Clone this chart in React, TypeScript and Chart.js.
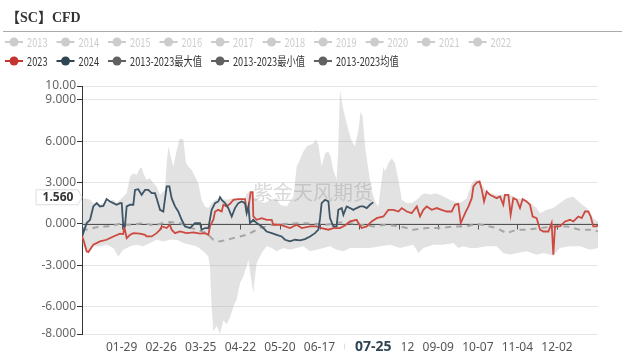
import React, { useEffect, useRef } from "react";
import { Chart, registerables } from "chart.js";

Chart.register(...registerables);

// ---------- text ----------
const TITLE = "【SC】CFD";
const WATERMARK = "紫金天风期货";
const HIDDEN_YEARS = ["2013", "2014", "2015", "2016", "2017", "2018", "2019", "2020", "2021", "2022"];
const NAME_2023 = "2023";
const NAME_2024 = "2024";
const NAME_MAX = "2013-2023最大值";
const NAME_MIN = "2013-2023最小值";
const NAME_MEAN = "2013-2023均值";

// ---------- axes ----------
// x = day of (leap) year index, 0 = 01-01
const X_MIN = 0;
const X_MAX = 365;
const X_TICK_DAYS = [28, 56, 84, 112, 140, 168, 196, 224, 252, 280, 308, 336];
const X_TICK_LABELS = ["01-29", "02-26", "03-25", "04-22", "05-20", "06-17", "07-15", "08-12", "09-09", "10-07", "11-04", "12-02"];
const Y_MIN = -8;
const Y_MAX = 10;
const Y_TICKS = [-8, -6, -3, 0, 3, 6, 9, 10];
const Y_TICK_LABELS = ["-8.000", "-6.000", "-3.000", "0.000", "3.000", "6.000", "9.000", "10.00"];

// axis pointer (hover state in the reference)
const POINTER_DAY = 206;
const POINTER_DAY_LABEL = "07-25";
const POINTER_VALUE = 1.56;
const POINTER_VALUE_LABEL = "1.560";

// ---------- series: [day, value] ----------
const S2023: [number, number][] = [
  [0, -0.92], [1, -1.16], [3.3, -2.0], [4.5, -2.05], [8, -1.52], [12.7, -1.28], [17.4, -1.16], [22.2, -0.92],
  [26.9, -0.72], [29.2, -0.75], [29.9, -0.19], [31.6, -1.04], [34, -0.8], [36.3, -0.68], [41, -0.72], [44.6, -0.8],
  [45.7, -0.92], [49.3, -0.92], [52.8, -0.68], [55.2, -0.43], [56.4, -0.19], [59.9, -0.31], [62.2, -0.07], [63.4, -0.43],
  [65.8, -0.68], [69.3, -0.56], [74, -0.68], [78.8, -0.63], [83.5, -0.72], [87, -0.68], [89.4, -0.8], [90.5, -0.19],
  [92.9, 0.29], [94.1, 0.89], [96.4, 1.01], [98.8, 0.89], [100, 1.38], [102.3, 1.26], [104.7, 1.45], [107.1, 1.74],
  [110.6, 1.79], [115.3, 1.79], [116.5, 0.89], [117.7, 1.14], [119.3, 2.29], [120.7, 2.29], [121.2, 0.53], [123.6, 0.29],
  [127.1, 0.41], [130.6, 0.29], [134.2, 0.29], [135.3, -0.07], [140.1, -0.07], [143.6, -0.19], [147.1, -0.31], [151.9, -0.07],
  [155.4, -0.31], [161.3, -0.19], [166, -0.19], [169.5, -0.31], [174.3, -0.43], [177.8, -0.31], [182.5, -0.31], [186, -0.12],
  [189.6, 0.17], [194.3, 0.29], [195.5, 0.05], [197.8, -0.31], [201.4, -0.19], [204.9, 0.17], [208.5, 0.41], [213.2, 0.53],
  [216.7, 1.01], [220.3, 1.01], [223.8, 0.89], [226.2, 1.14], [229.7, 0.89], [233.2, 0.77], [236.8, 1.26], [239.1, 0.53],
  [241.5, 1.01], [243.8, 1.26], [247.4, 1.01], [250.9, 1.14], [254.4, 1.01], [258, 0.89], [261.5, 0.89], [263.8, 1.38],
  [266.2, 1.45], [267.9, 0.05], [271, 0.77], [273.4, 1.26], [275.7, 1.86], [276.9, 2.71], [279.3, 3.0], [281.2, 3.07],
  [282.8, 2.46], [284.4, 1.62], [286.3, 2.34], [288.6, 2.1], [291, 1.98], [293.3, 1.86], [295.7, 1.98], [298, 1.38],
  [299.2, 2.1], [301.6, 2.1], [303.2, 0.65], [305.1, 1.86], [307.5, 1.74], [309.8, 1.14], [311.7, 1.79], [314.5, 1.62],
  [316.9, 1.38], [318.8, 0.53], [321.6, 0.41], [324, -0.43], [326.4, -0.56], [329.9, -0.56], [332.2, 0.05], [333.4, -2.25],
  [334.6, -0.19], [338.1, -0.19], [341.7, 0.17], [345.2, 0.29], [347.6, 0.17], [351.1, 0.53], [353.5, 0.41], [355.8, 0.89],
  [358.2, 0.89], [359.8, 0.53], [361.7, -0.19], [364.1, -0.19], [365, -0.07],
];

const S2024: [number, number][] = [
  [0, -0.19], [0.9, -0.68], [3.3, 0.05], [5.7, 0.29], [8, 1.26], [10.4, 1.5], [12.7, 1.26], [15.1, 1.3],
  [17.4, 1.79], [19.8, 1.62], [22.2, 1.5], [24.5, 1.38], [26.9, 1.5], [28.1, 1.5], [29.2, -0.19], [30.4, -0.19],
  [31.6, 1.26], [34, 1.38], [36.3, 1.38], [37.5, 2.46], [39.8, 2.51], [42.2, 2.1], [44.6, 2.46], [46.9, 2.46],
  [49.3, 2.22], [51.6, 2.22], [52.8, 1.86], [55.2, 1.01], [57.5, 0.89], [59.9, 2.71], [61.8, 2.71], [63.4, 1.86],
  [65.8, 1.26], [68.1, 0.89], [70.5, 0.29], [72.9, -0.19], [76.4, -0.31], [79.9, 0.05], [83.5, 0.05], [84.6, -0.43],
  [87, -0.31], [89.4, -0.31], [91.7, 1.01], [94.1, 1.5], [96.4, 1.62], [97.6, 1.93], [98.8, 1.74], [101.2, 1.5],
  [103.5, 1.14], [105.9, 0.53], [108.2, 1.14], [110.6, 1.5], [112.9, 1.62], [115.3, 1.5], [116.5, 0.77], [117.7, 1.26],
  [118.8, 0.05], [121.2, 0.29], [123.6, 0.05], [127.1, -0.19], [130.6, -0.56], [134.2, -0.68], [137.7, -0.8], [141.2, -0.92],
  [143.6, -1.16], [147.1, -1.28], [150.7, -1.16], [154.2, -1.21], [157.7, -1.11], [161.3, -0.92], [164.8, -0.68], [167.2, -0.43],
  [168.4, 0.41], [169.5, 1.5], [171.9, 1.74], [174.3, 1.62], [175.4, 0.41], [177.8, -0.19], [180.1, -0.19], [181.3, 1.01],
  [183.7, 1.14], [184.9, 0.65], [187.2, 1.26], [189.6, 1.14], [191.9, 1.01], [194.3, 1.14], [196.7, 1.26], [199, 1.26],
  [201.4, 1.14], [203.7, 1.38], [206, 1.56],
];

const S_MEAN: [number, number][] = [
  [0, -0.31], [3.3, -0.43], [8, -0.31], [12.7, -0.19], [17.4, -0.19], [22.2, -0.12], [26.9, 0], [31.6, -0.07],
  [36.3, -0.07], [43.4, 0.05], [50.5, -0.12], [57.5, 0.05], [62.2, 0.12], [69.3, 0.05], [74, -0.19], [81.1, -0.43],
  [88.2, -0.68], [92.9, -1.16], [97.6, -1.28], [102.3, -1.16], [107.1, -1.04], [111.8, -0.92], [116.5, -0.8], [121.2, -0.56],
  [125.9, -0.31], [130.6, -0.19], [135.3, -0.07], [144.8, 0], [154.2, 0.05], [163.6, 0], [173.1, -0.07], [182.5, 0.1],
  [189.6, 0.05], [196.7, -0.07], [206.1, -0.19], [215.5, -0.07], [225, -0.19], [234.4, -0.43], [243.8, -0.31], [253.3, -0.31],
  [262.7, -0.19], [272.2, -0.19], [279.3, 0], [286.3, -0.15], [293.3, -0.31], [300.4, -0.68], [307.5, -0.43], [314.5, -0.43],
  [324, -0.31], [333.4, -0.19], [342.9, -0.19], [352.3, -0.43], [361.7, -0.43], [365, -0.56],
];

const S_MAX: [number, number][] = [
  [0, 1.74], [2.1, 1.86], [5.7, 1.74], [8, 1.5], [12.7, 1.38], [17.4, 1.62], [22.2, 1.74], [24.5, 1.5],
  [28.1, 1.86], [31.6, 2.22], [34, 3.43], [36.3, 3.67], [38.7, 3.55], [41, 4.03], [42.2, 4.11], [43.4, 3.67],
  [45.7, 3.19], [48.1, 3.31], [50.5, 2.95], [52.8, 2.71], [55.2, 2.1], [58.7, 2.46], [59.9, 4.4], [61.1, 5.6],
  [62.7, 4.88], [64.6, 4.15], [67, 5.36], [69.3, 6.21], [71.7, 6.09], [73.6, 4.4], [75.2, 4.15], [77.6, 3.91],
  [79.9, 3.43], [82.3, 2.95], [84.6, 1.74], [87, 1.26], [89.4, 1.14], [91.7, 1.5], [94.1, 1.74], [97.6, 1.86],
  [102.3, 1.74], [107.1, 1.86], [111.8, 1.86], [115.3, 1.86], [116.5, 2.22], [118.8, 2.34], [121.2, 1.98], [125.9, 1.62],
  [129.5, 1.5], [133, 1.74], [137.7, 1.86], [140.1, 1.38], [144.8, 1.26], [149.5, 1.98], [151.9, 4.15], [154.2, 4.64],
  [156.6, 5.24], [158.9, 5.6], [161.3, 5.72], [163.6, 5.85], [165.5, 6.09], [167.2, 5.72], [169.5, 4.15], [171.9, 5.12],
  [174.3, 5.24], [175.9, 4.88], [177.8, 3.91], [180.1, 3.19], [181.3, 5.6], [182.5, 9.71], [184.4, 8.5], [186, 7.78],
  [188.4, 6.81], [190.8, 5.97], [193.1, 5.6], [195.5, 6.81], [197.1, 8.14], [198.5, 7.78], [200.2, 5.6], [202.6, 3.91],
  [204.9, 2.46], [207.3, 1.62], [209.6, 1.26], [212, 3.19], [213.2, 4.15], [214.4, 3.79], [216.7, 4.4], [219.1, 4.76],
  [221.4, 4.4], [223.8, 3.19], [226.2, 1.74], [229.7, 1.5], [233.2, 1.5], [236.8, 1.74], [240.3, 2.1], [242.7, 2.22],
  [246.2, 2.1], [249.8, 2.22], [253.3, 2.1], [258, 1.86], [262.7, 1.62], [267.4, 1.5], [272.2, 1.86], [275.7, 2.95],
  [278.1, 3.19], [281.6, 3.1], [285.1, 2.46], [288.6, 2.22], [293.3, 2.1], [298, 2.1], [302.8, 2.1], [307.5, 1.86],
  [312.2, 1.79], [316.9, 1.5], [321.6, 1.14], [324, 0.77], [328.7, 1.01], [333.4, 1.14], [338.1, 1.5], [342.9, 1.86],
  [347.6, 1.98], [352.3, 1.5], [357, 1.14], [361.7, 0.41], [365, 0.17],
];

const S_MIN: [number, number][] = [
  [0, -1.4], [3.3, -2.13], [8, -1.64], [12.7, -1.64], [17.4, -1.52], [22.2, -1.76], [25.7, -2.37], [29.2, -1.88],
  [34, -1.64], [38.7, -1.52], [43.4, -1.64], [48.1, -1.4], [52.8, -1.16], [57.5, -1.28], [62.2, -1.16], [67, -1.16],
  [71.7, -1.4], [76.4, -1.52], [81.1, -1.64], [85.8, -2.0], [89.4, -2.37], [90.5, -3.09], [91.7, -5.99], [92.9, -7.8],
  [95.3, -7.4], [97.6, -8.0], [100, -7.0], [102.3, -7.3], [104.7, -6.8], [107.1, -6.0], [109.4, -5.5], [111.8, -4.3],
  [114.1, -3.82], [116.5, -3.09], [117.7, -2.61], [118.8, -3.45], [121.2, -5.02], [122.4, -3.82], [123.6, -2.85], [127.1, -2.13],
  [130.6, -1.64], [134.2, -1.76], [137.7, -2.0], [142.4, -1.76], [147.1, -1.88], [151.9, -1.76], [156.6, -1.64], [161.3, -2.0],
  [166, -1.88], [170.7, -1.76], [175.4, -1.64], [180.1, -1.88], [184.9, -2.0], [189.6, -1.76], [194.3, -1.76], [196.7, -1.76],
  [203.7, -1.76], [210.8, -1.64], [217.9, -1.52], [225, -1.76], [229.7, -1.64], [234.4, -1.52], [238, -2.13], [241.5, -1.76],
  [248.6, -1.52], [255.6, -1.52], [262.7, -1.4], [266.2, -1.76], [269.8, -1.64], [274.5, -1.76], [279.3, -1.76], [286.3, -1.64],
  [293.3, -1.64], [298, -2.13], [302.8, -2.25], [307.5, -2.13], [314.5, -2.0], [321.6, -2.25], [326.4, -2.13], [333.4, -2.3],
  [338.1, -1.76], [345.2, -1.64], [352.3, -1.64], [359.4, -1.88], [365, -1.76],
];

// ---------- styles ----------
const RED = "#c23531";
const RED_LINE = "#cc4a40";
const NAVY = "#2f4554";
const NAVY_LINE = "#3e5566";
const DARK_GRAY = "#616161";
const MEAN_GRAY = "#a6a6a6";
const BAND_FILL = "rgba(160,160,160,0.3)";
const HIDDEN_GRAY = "#cccccc";
const SANS = "'Noto Sans', 'Noto Sans CJK SC', sans-serif";
const CJK = "'Noto Sans CJK SC', 'Noto Sans', sans-serif";

const toXY = (arr: [number, number][]) => arr.map(([x, y]) => ({ x, y }));

const decorPlugin = {
  id: "decor",
  beforeDatasetsDraw(chart: any) {
    const { ctx, chartArea, scales } = chart;
    const y0 = Math.round(scales.y.getPixelForValue(0)) + 0.5;
    ctx.save();
    ctx.strokeStyle = "#333";
    ctx.lineWidth = 1;
    ctx.beginPath();
    ctx.moveTo(chartArea.left, y0);
    ctx.lineTo(chartArea.right, y0);
    X_TICK_DAYS.forEach((d) => {
      const px = Math.round(scales.x.getPixelForValue(d)) + 0.5;
      ctx.moveTo(px, y0);
      ctx.lineTo(px, y0 + 5);
    });
    ctx.stroke();
    ctx.restore();
  },
  afterDatasetsDraw(chart: any) {
    const { ctx } = chart;
    ctx.save();
    ctx.font = `20px ${CJK}`;
    ctx.fillStyle = "rgba(130,130,130,0.3)";
    ctx.textAlign = "center";
    ctx.textBaseline = "middle";
    ctx.fillText(WATERMARK, 313, 192);
    ctx.restore();
  },
  afterDraw(chart: any) {
    const { ctx, chartArea, scales } = chart;
    ctx.save();
    // title
    ctx.font = `bold 14px 'Liberation Serif', 'Noto Sans CJK SC', serif`;
    ctx.fillStyle = "#333";
    ctx.textBaseline = "middle";
    ctx.textAlign = "left";
    ctx.fillText(TITLE, 6, 18);
    // separator
    ctx.strokeStyle = "#aaaaaa";
    ctx.lineWidth = 1;
    ctx.beginPath();
    ctx.moveTo(3, 31.5);
    ctx.lineTo(622, 31.5);
    ctx.stroke();

    // legend
    const ds = chart.data.datasets;
    const rows = [ds.slice(0, 10), ds.slice(10)];
    const rowY = [42, 61];
    ctx.font = `12px ${CJK}`;
    rows.forEach((row: any[], r: number) => {
      let x = 5;
      const y = rowY[r];
      row.forEach((d: any) => {
        const hidden = !!d.hidden;
        const col = hidden ? HIDDEN_GRAY : d.legendColor;
        ctx.strokeStyle = col;
        ctx.fillStyle = col;
        ctx.lineWidth = 2;
        ctx.beginPath();
        ctx.moveTo(x, y);
        ctx.lineTo(x + 18, y);
        ctx.stroke();
        ctx.beginPath();
        ctx.arc(x + 9, y, 4.5, 0, Math.PI * 2);
        ctx.fill();
        const tw = ctx.measureText(d.label).width * 0.77;
        ctx.fillStyle = hidden ? HIDDEN_GRAY : "#333";
        ctx.textBaseline = "middle";
        ctx.fillText(d.label, x + 22, y + 0.5, tw);
        x = x + 22 + tw + 9;
      });
    });

    // x axis pointer label
    const px = scales.x.getPixelForValue(POINTER_DAY);
    ctx.fillStyle = "#fff";
    ctx.fillRect(px - 29, chartArea.bottom + 3, 58, 18);
    ctx.font = `bold 14px ${SANS}`;
    ctx.fillStyle = NAVY;
    ctx.textAlign = "center";
    ctx.textBaseline = "middle";
    ctx.fillText(POINTER_DAY_LABEL, px, chartArea.bottom + 13);

    // y axis pointer label
    const yc = scales.y.getPixelForValue(POINTER_VALUE) - 5;
    const left = 36;
    const right = chartArea.left - 4;
    ctx.beginPath();
    ctx.moveTo(left, yc - 7.5);
    ctx.lineTo(right, yc - 7.5);
    ctx.lineTo(right + 4, yc);
    ctx.lineTo(right, yc + 7.5);
    ctx.lineTo(left, yc + 7.5);
    ctx.closePath();
    ctx.fillStyle = "#fff";
    ctx.fill();
    ctx.strokeStyle = "#dddddd";
    ctx.lineWidth = 1;
    ctx.stroke();
    ctx.font = `bold 12px ${SANS}`;
    ctx.fillStyle = "#333";
    ctx.fillText(POINTER_VALUE_LABEL, (left + right) / 2 + 1, yc + 0.5);
    ctx.restore();
  },
};

export default function App() {
  const ref = useRef<HTMLCanvasElement | null>(null);

  useEffect(() => {
    document.body.style.margin = "0";
    const canvas = ref.current;
    if (!canvas) return;

    const hiddenSets = HIDDEN_YEARS.map((y) => ({
      label: y,
      data: [],
      hidden: true,
      legendColor: HIDDEN_GRAY,
      borderColor: HIDDEN_GRAY,
    }));

    const chart = new Chart(canvas, {
      type: "line",
      data: {
        datasets: [
          ...hiddenSets,
          {
            label: NAME_2023,
            data: toXY(S2023),
            borderColor: RED_LINE,
            legendColor: RED,
            borderWidth: 1.8,
            fill: false,
            order: 1,
          },
          {
            label: NAME_2024,
            data: toXY(S2024),
            borderColor: NAVY_LINE,
            legendColor: NAVY,
            borderWidth: 1.8,
            fill: false,
            order: 0,
          },
          {
            label: NAME_MAX,
            data: toXY(S_MAX),
            borderColor: "rgba(0,0,0,0)",
            legendColor: DARK_GRAY,
            borderWidth: 0,
            backgroundColor: BAND_FILL,
            fill: "+1",
            order: 5,
          },
          {
            label: NAME_MIN,
            data: toXY(S_MIN),
            borderColor: "rgba(0,0,0,0)",
            legendColor: DARK_GRAY,
            borderWidth: 0,
            fill: false,
            order: 4,
          },
          {
            label: NAME_MEAN,
            data: toXY(S_MEAN),
            borderColor: MEAN_GRAY,
            legendColor: DARK_GRAY,
            borderWidth: 2,
            borderDash: [6, 5],
            fill: false,
            order: 2,
          },
        ] as any,
      },
      options: {
        animation: false,
        responsive: false,
        devicePixelRatio: 1,
        layout: { padding: { top: 86, right: 24, left: 0, bottom: 0 } },
        elements: { point: { radius: 0, hoverRadius: 0 }, line: { tension: 0 } },
        plugins: {
          legend: { display: false },
          tooltip: { enabled: false },
          title: { display: false },
        },
        events: [],
        scales: {
          x: {
            type: "linear",
            min: X_MIN,
            max: X_MAX,
            grid: { display: false, drawTicks: false },
            border: { display: false },
            afterBuildTicks: (scale: any) => {
              scale.ticks = X_TICK_DAYS.map((value) => ({ value }));
            },
            afterFit: (scale: any) => {
              scale.height = 21;
            },
            ticks: {
              autoSkip: false,
              maxRotation: 0,
              padding: 6,
              color: "#555",
              font: { family: SANS, size: 12 },
              callback: (_v: any, i: number) => X_TICK_LABELS[i],
            },
          },
          y: {
            type: "linear",
            min: Y_MIN,
            max: Y_MAX,
            afterBuildTicks: (scale: any) => {
              scale.ticks = Y_TICKS.map((value) => ({ value }));
            },
            afterFit: (scale: any) => {
              scale.width = 82;
            },
            grid: { color: "#e6e6e6", tickColor: "#333", tickLength: 5, drawTicks: true },
            border: { display: true, color: "#333", width: 1 },
            ticks: {
              padding: 1,
              color: "#666",
              font: { family: SANS, size: 12 },
              callback: (_v: any, i: number) => Y_TICK_LABELS[i],
            },
          },
        },
      } as any,
      plugins: [decorPlugin],
    });

    return () => chart.destroy();
  }, []);

  return (
    <div style={{ width: 622, height: 355 }}>
      <canvas ref={ref} width={622} height={355} style={{ display: "block", width: 622, height: 355 }} />
    </div>
  );
}
